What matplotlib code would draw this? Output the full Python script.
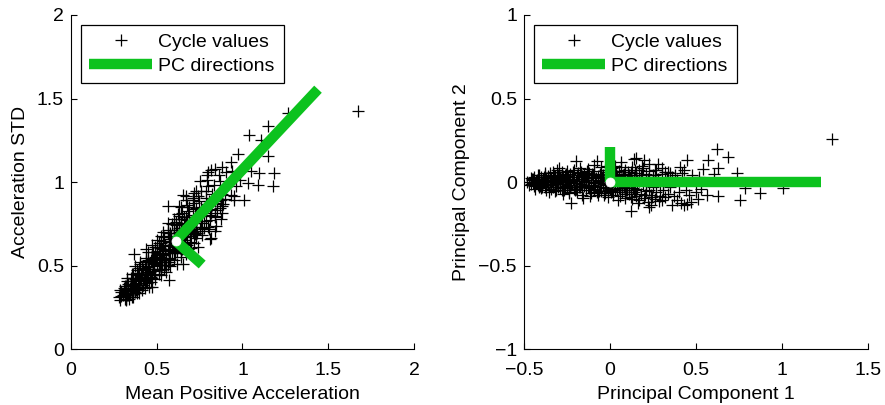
import matplotlib
matplotlib.use("Agg")
import matplotlib.pyplot as plt
import numpy as np

plt.rcParams['font.family'] = ['Liberation Sans', 'DejaVu Sans']
plt.rcParams['axes.unicode_minus'] = True

# principal component scores of each cycle
pc1 = [
    -0.48, -0.46, -0.45, -0.44, -0.44, -0.43, -0.42, -0.42, -0.41, -0.40,
    -0.40, -0.39, -0.38, -0.38, -0.37, -0.37, -0.36, -0.36, -0.35, -0.35,
    -0.34, -0.34, -0.33, -0.33, -0.32, -0.32, -0.31, -0.31, -0.30, -0.30,
    -0.296, -0.29, -0.29, -0.28, -0.28, -0.27, -0.27, -0.26, -0.26, -0.25,
    -0.25, -0.24, -0.24, -0.23, -0.23, -0.224, -0.22, -0.21, -0.21, -0.20,
    -0.198, -0.19, -0.19, -0.18, -0.18, -0.17, -0.17, -0.16, -0.16, -0.15,
    -0.15, -0.14, -0.14, -0.13, -0.13, -0.12, -0.12, -0.11, -0.11, -0.10,
    -0.10, -0.09, -0.09, -0.08, -0.076, -0.07, -0.07, -0.06, -0.06, -0.05,
    -0.05, -0.04, -0.04, -0.03, -0.03, -0.02, -0.02, -0.01, -0.01, 0.00,
    0.00, 0.01, 0.01, 0.02, 0.02, 0.03, 0.03, 0.04, 0.04, 0.05,
    0.05, 0.06, 0.064, 0.07, 0.07, 0.08, 0.08, 0.09, 0.09, 0.10,
    0.10, 0.11, 0.11, 0.12, 0.122, 0.12, 0.13, 0.13, 0.14, 0.142,
    0.14, 0.15, 0.15, 0.152, 0.16, 0.16, 0.17, 0.17, 0.18, 0.18,
    0.19, 0.19, 0.20, 0.20, 0.21, 0.21, 0.22, 0.22, 0.23, 0.229,
    0.24, 0.239, 0.25, 0.25, 0.26, 0.26, 0.27, 0.278, 0.28, 0.29,
    0.30, 0.30, 0.31, 0.32, 0.32, 0.33, 0.336, 0.34, 0.35, 0.35,
    0.37, 0.38, 0.40, 0.414, 0.42, 0.433, 0.449, 0.449, 0.46, 0.48,
    0.50, 0.519, 0.54, 0.566, 0.573, 0.605, 0.624, 0.628, 0.628, 0.686,
    0.740, 0.754, 0.783, 0.871, 1.006, 1.290,
    -0.46, -0.43, -0.41, -0.39, -0.37, -0.35, -0.33, -0.31, -0.29, -0.27,
    -0.25, -0.23, -0.21, -0.19, -0.17, -0.15, -0.13, -0.11, -0.09, -0.07,
    -0.05, -0.03, -0.01, 0.01, 0.03, 0.05, 0.07, 0.09, 0.11, 0.13,
    -0.445, -0.425, -0.405, -0.385, -0.365, -0.345, -0.325, -0.305, -0.285, -0.265,
    -0.245, -0.225, -0.205, -0.185, -0.165, -0.145, -0.125, -0.105, -0.085, -0.065,
    -0.045, -0.025, -0.005, 0.015, 0.035, 0.055, 0.075, 0.095, 0.115, 0.135,
    -0.47, -0.455, -0.435, -0.415, -0.395, -0.375, -0.355, -0.335, -0.315, -0.295,
    -0.275, -0.255, -0.235, -0.215, -0.195, -0.175, -0.155, -0.135, -0.115, -0.095,
    -0.075, -0.055, -0.035, -0.015, 0.005, 0.025, 0.045, 0.065, 0.085, 0.105,
    0.125, 0.145, 0.165, 0.185, 0.205, 0.225, 0.245, 0.265, 0.285, 0.305,
    -0.43, -0.39, -0.35, -0.31, -0.27, -0.23, -0.19, -0.15, -0.11, -0.07,
    -0.03, 0.01, 0.05, 0.09, 0.13, 0.17, 0.21, 0.25, 0.29, 0.33,
    -0.452, -0.412, -0.372, -0.332, -0.292, -0.252, -0.212, -0.172, -0.132, -0.092,
    -0.052, -0.012, 0.028, 0.068, 0.108, 0.148, 0.188, 0.228, 0.268, 0.308,
    0.36, 0.39, 0.41, 0.44, 0.47, 0.51, 0.53, 0.39, 0.43, 0.36,
]
pc2 = [
    0.002, -0.012, 0.020, 0.032, -0.025, 0.008, -0.018, 0.040, 0.015, -0.035,
    0.028, -0.006, 0.045, -0.030, 0.012, -0.048, 0.035, -0.015, 0.055, 0.000,
    0.022, -0.040, 0.060, -0.010, 0.038, -0.055, 0.005, 0.072, -0.028, 0.045,
    0.082, -0.012, 0.030, -0.045, 0.058, 0.010, -0.070, 0.040, -0.022, 0.065,
    -0.035, 0.015, -0.058, 0.048, -0.005, -0.126, 0.030, -0.040, 0.075, 0.008,
    0.128, -0.060, 0.042, 0.020, -0.030, 0.062, -0.012, 0.035, -0.075, 0.050,
    -0.025, 0.010, -0.050, 0.078, 0.025, -0.038, 0.055, 0.002, -0.065, 0.040,
    -0.018, 0.068, -0.045, 0.022, 0.126, -0.080, 0.035, 0.005, -0.030, 0.090,
    -0.055, 0.045, -0.010, 0.072, -0.068, 0.018, -0.035, 0.060, -0.090, 0.030,
    -0.040, 0.085, -0.015, 0.050, -0.075, 0.012, 0.095, -0.050, 0.038, -0.022,
    0.065, -0.085, 0.122, 0.020, -0.060, 0.048, -0.030, 0.075, -0.095, 0.010,
    -0.050, 0.040, -0.070, 0.060, -0.172, -0.025, 0.090, -0.100, 0.030, 0.138,
    -0.060, 0.055, -0.085, 0.142, 0.015, -0.040, 0.070, -0.110, 0.040, -0.070,
    0.085, -0.020, 0.132, -0.095, 0.050, -0.055, 0.020, -0.120, 0.065, -0.152,
    -0.075, -0.138, 0.045, -0.030, 0.075, -0.100, -0.060, 0.106, 0.020, -0.085,
    0.050, -0.110, -0.045, 0.060, -0.090, 0.025, 0.062, -0.070, 0.055, -0.030,
    -0.085, 0.045, -0.060, -0.128, 0.055, -0.138, 0.132, -0.134, -0.080, 0.040,
    -0.060, 0.032, 0.081, -0.079, 0.130, 0.046, 0.198, 0.085, -0.085, 0.148,
    0.055, -0.110, -0.038, -0.066, -0.035, 0.260,
    0.025, -0.005, -0.030, 0.018, -0.012, 0.030, -0.020, 0.012, -0.035, 0.025,
    0.005, -0.028, 0.018, -0.008, 0.032, -0.015, -0.002, 0.028, -0.022, 0.012,
    -0.005, 0.022, -0.028, 0.035, -0.040, 0.018, -0.010, 0.030, -0.025, 0.015,
    -0.008, 0.012, -0.022, 0.030, 0.005, -0.018, 0.040, -0.002, 0.020, -0.048,
    0.035, -0.015, -0.045, 0.052, -0.022, 0.028, -0.032, 0.048, -0.008, -0.052,
    0.028, -0.020, 0.010, -0.055, 0.058, -0.038, 0.042, -0.048, 0.022, -0.035,
    -0.020, 0.015, -0.040, 0.045, -0.028, 0.052, -0.060, 0.008, -0.048, 0.036,
    -0.010, 0.050, -0.068, 0.062, -0.042, 0.085, -0.095, 0.065, -0.085, 0.100,
    -0.060, 0.048, -0.080, 0.098, -0.062, 0.068, -0.105, 0.088, -0.072, 0.058,
    -0.088, 0.075, -0.125, 0.095, -0.080, 0.110, -0.090, 0.040, -0.115, 0.085,
    0.000, 0.005, -0.002, -0.005, 0.003, 0.000, -0.004, 0.006, -0.001, 0.002,
    0.004, -0.003, 0.001, -0.006, 0.002, 0.008, -0.010, 0.012, -0.014, 0.010,
    0.018, -0.022, 0.025, -0.032, 0.020, -0.025, 0.015, -0.030, 0.045, -0.040,
    0.040, -0.045, 0.050, -0.038, 0.045, -0.050, 0.030, -0.045, 0.070, -0.020,
    0.030, -0.110, 0.090, -0.050, -0.120, -0.100, -0.040, 0.010, 0.070, -0.140,
]

# mean point and PC unit vectors / drawn lengths
feat_mean = [0.61, 0.648]
pc_dir1 = [0.675, 0.738]
pc_dir2 = [0.738, -0.675]
pc_len = [1.23, 0.21]

green = '#0cc21e'
fs = 14

pc1 = np.array(pc1)
pc2 = np.array(pc2)
mu = np.array(feat_mean)
u1 = np.array(pc_dir1)
u2 = np.array(pc_dir2)

# back to feature space: mean positive acceleration / acceleration std
feat = mu + np.outer(pc1, u1) + np.outer(pc2, u2)

fig = plt.figure(figsize=(8.85, 4.05), dpi=100)
ax1 = fig.add_axes([0.0802, 0.138, 0.3876, 0.825])
ax2 = fig.add_axes([0.592, 0.138, 0.3887, 0.825])


def style(ax):
    ax.spines['top'].set_visible(False)
    ax.spines['right'].set_visible(False)
    ax.tick_params(direction='in', length=4, labelsize=fs, top=False, right=False)
    ax.tick_params(axis='x', pad=9.5)
    ax.tick_params(axis='y', pad=5)


# left: raw features
ax1.plot(feat[:, 0], feat[:, 1], 'k+', ms=8, mew=0.9, label='Cycle values')
e1 = mu + pc_len[0] * u1
e2 = mu + pc_len[1] * u2
ax1.plot([mu[0], e1[0]], [mu[1], e1[1]], color=green, lw=7.5, solid_capstyle='butt',
         label='PC directions')
ax1.plot([mu[0], e2[0]], [mu[1], e2[1]], color=green, lw=7.5, solid_capstyle='butt')
ax1.plot(mu[0], mu[1], 'o', ms=6.5, mfc='white', mec='white', mew=0.5)
ax1.set_xlim(0, 2)
ax1.set_ylim(0, 2)
ax1.set_xticks([0, 0.5, 1, 1.5, 2])
ax1.set_xticklabels(['0', '0.5', '1', '1.5', '2'])
ax1.set_yticks([0, 0.5, 1, 1.5, 2])
ax1.set_yticklabels(['0', '0.5', '1', '1.5', '2'])
ax1.set_xlabel('Mean Positive Acceleration', fontsize=fs, labelpad=5)
ax1.set_ylabel('Acceleration STD', fontsize=fs, labelpad=6)
style(ax1)

# right: PC scores
ax2.plot(pc1, pc2, 'k+', ms=8, mew=0.9, label='Cycle values')
ax2.plot([0, pc_len[0]], [0, 0], color=green, lw=7.5, solid_capstyle='butt',
         label='PC directions')
ax2.plot([0, 0], [0, pc_len[1]], color=green, lw=7.5, solid_capstyle='butt')
ax2.plot(0, 0, 'o', ms=6.5, mfc='white', mec='white', mew=0.5)
ax2.set_xlim(-0.5, 1.5)
ax2.set_ylim(-1, 1)
ax2.set_xticks([-0.5, 0, 0.5, 1, 1.5])
ax2.set_xticklabels(['\u22120.5', '0', '0.5', '1', '1.5'])
ax2.set_yticks([-1, -0.5, 0, 0.5, 1])
ax2.set_yticklabels(['\u22121', '\u22120.5', '0', '0.5', '1'])
ax2.set_xlabel('Principal Component 1', fontsize=fs, labelpad=5)
ax2.set_ylabel('Principal Component 2', fontsize=fs, labelpad=6)
style(ax2)

for ax in (ax1, ax2):
    leg = ax.legend(loc='upper left', fontsize=fs, handlelength=3.2, fancybox=False,
                    edgecolor='black', framealpha=1, borderaxespad=0.5,
                    handletextpad=0.35, borderpad=0.45, labelspacing=0.3)
    leg.get_frame().set_linewidth(0.9)

fig.savefig('out.png', dpi=100)
